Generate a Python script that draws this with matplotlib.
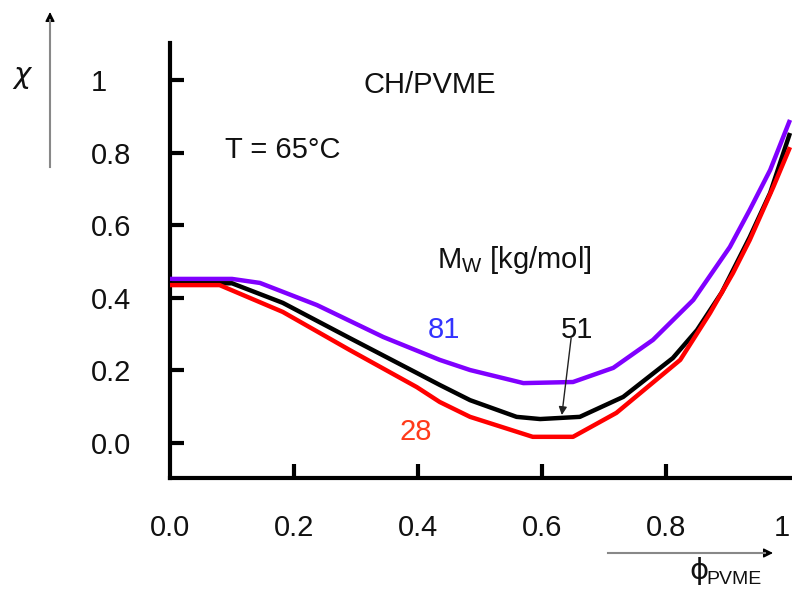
import matplotlib
matplotlib.use("Agg")
import matplotlib.pyplot as plt
from matplotlib.patches import FancyArrowPatch
from matplotlib.lines import Line2D

plt.rcParams['font.family'] = ['Liberation Sans', 'DejaVu Sans']
plt.rcParams['mathtext.fontset'] = 'custom'
plt.rcParams['mathtext.rm'] = 'Liberation Sans'
plt.rcParams['mathtext.it'] = 'Liberation Sans'

# ---- data ----
phi_81 = [0, 0.10, 0.145, 0.237, 0.344, 0.435, 0.484, 0.570, 0.650, 0.715, 0.779, 0.844, 0.903, 0.935, 0.968, 1.0]
chi_81 = [0.452, 0.452, 0.441, 0.380, 0.292, 0.229, 0.201, 0.165, 0.168, 0.207, 0.284, 0.394, 0.540, 0.642, 0.752, 0.890]

phi_51 = [0, 0.10, 0.182, 0.290, 0.398, 0.435, 0.484, 0.559, 0.597, 0.661, 0.731, 0.811, 0.850, 0.890, 0.935, 0.968, 1.0]
chi_51 = [0.440, 0.440, 0.386, 0.289, 0.193, 0.160, 0.118, 0.072, 0.066, 0.072, 0.127, 0.234, 0.311, 0.415, 0.567, 0.689, 0.854]

phi_28 = [0, 0.08, 0.182, 0.290, 0.398, 0.435, 0.484, 0.585, 0.650, 0.720, 0.823, 0.871, 0.908, 0.935, 0.973, 1.0]
chi_28 = [0.435, 0.435, 0.361, 0.256, 0.154, 0.113, 0.072, 0.017, 0.017, 0.083, 0.229, 0.358, 0.468, 0.559, 0.705, 0.815]

x_ticks = [0.0, 0.2, 0.4, 0.6, 0.8, 1.0]
x_ticklabels = ['0.0', '0.2', '0.4', '0.6', '0.8', '1']
y_ticks = [0.0, 0.2, 0.4, 0.6, 0.8, 1.0]
y_ticklabels = ['0.0', '0.2', '0.4', '0.6', '0.8', '1']

W, H = 792, 590
fig = plt.figure(figsize=(W / 100, H / 100), dpi=100)
ax = fig.add_axes([170 / W, 1 - 478 / H, (792 - 170) / W, (478 - 43) / H])
ax.set_xlim(0, 622 / 620)
ax.set_ylim((443 - 478) / 363, (443 - 43) / 363)

fs = 21
txt = '#111111'

ax.plot(phi_81, chi_81, color='#8000ff', lw=3.2, solid_capstyle='butt', zorder=3)
ax.plot(phi_51, chi_51, color='black', lw=3.2, solid_capstyle='butt', zorder=3)
ax.plot(phi_28, chi_28, color='#ff0000', lw=3.2, solid_capstyle='butt', zorder=4)

for s in ['top', 'right']:
    ax.spines[s].set_visible(False)
for s in ['left', 'bottom']:
    ax.spines[s].set_linewidth(3)
    ax.spines[s].set_color('black')

ax.set_xticks(x_ticks)
ax.set_xticklabels(x_ticklabels)
ax.set_yticks(y_ticks)
ax.set_yticklabels(y_ticklabels, ha='left')
ax.tick_params(axis='x', direction='in', length=10, width=3, pad=26,
               labelsize=fs, labelcolor=txt)
ax.tick_params(axis='y', direction='in', length=10, width=3, pad=57,
               labelsize=fs, labelcolor=txt)
xtl = ax.get_xticklabels()
xtl[-1].set_ha('right')
ax.xaxis.get_major_ticks()[-1].tick1line.set_visible(False)
ax.xaxis.get_major_ticks()[0].tick1line.set_visible(False)

# annotations inside the plot
ax.text(0.419, 0.986, 'CH/PVME', fontsize=fs, color=txt, ha='center', va='center')
ax.text(0.088, 0.807, 'T = 65°C', fontsize=fs, color=txt, ha='left', va='center')
ax.text(0.430, 0.504, r'M$_{\mathrm{W}}$ [kg/mol]', fontsize=fs, color=txt, ha='left', va='center')
ax.text(0.442, 0.311, '81', fontsize=fs, color='#3333ff', ha='center', va='center')
ax.text(0.656, 0.311, '51', fontsize=fs, color=txt, ha='center', va='center')
ax.text(0.397, 0.030, '28', fontsize=fs, color='#ff3a1a', ha='center', va='center')
ax.annotate('', xy=(0.632, 0.077), xytext=(0.647, 0.289),
            arrowprops=dict(arrowstyle='-|>', color='#222222', lw=1.0,
                            mutation_scale=12, shrinkA=0, shrinkB=0))

# axis symbols outside the plot (figure pixel coordinates)
def fx(px):
    return px / W

def fy(py):
    return 1 - py / H

fig.text(fx(22), fy(75), 'χ', fontsize=fs, color=txt, ha='center', va='center',
         family=['DejaVu Sans'], style='italic')
# vertical chi arrow: gray shaft, black head
fig.add_artist(Line2D([fx(50), fx(50)], [fy(167), fy(20)], transform=fig.transFigure,
                      color='#888888', lw=1.5))
fig.add_artist(FancyArrowPatch((fx(50), fy(24)), (fx(50), fy(12)), transform=fig.transFigure,
                               arrowstyle='-|>', mutation_scale=14, color='black', lw=1.0,
                               shrinkA=0, shrinkB=0))
# horizontal phi arrow: gray shaft, black head
fig.add_artist(Line2D([fx(608), fx(765)], [fy(553), fy(553)], transform=fig.transFigure,
                      color='#888888', lw=1.5))
fig.add_artist(FancyArrowPatch((fx(760), fy(553)), (fx(773), fy(553)), transform=fig.transFigure,
                               arrowstyle='-|>', mutation_scale=14, color='black', lw=1.0,
                               shrinkA=0, shrinkB=0))
fig.text(fx(689), fy(571), 'ϕ', fontsize=fs, color=txt, ha='left', va='center',
         family=['DejaVu Sans'])
fig.text(fx(706), fy(580), 'PVME', fontsize=14, color=txt, ha='left', va='center')

fig.savefig('out.png', dpi=100)
